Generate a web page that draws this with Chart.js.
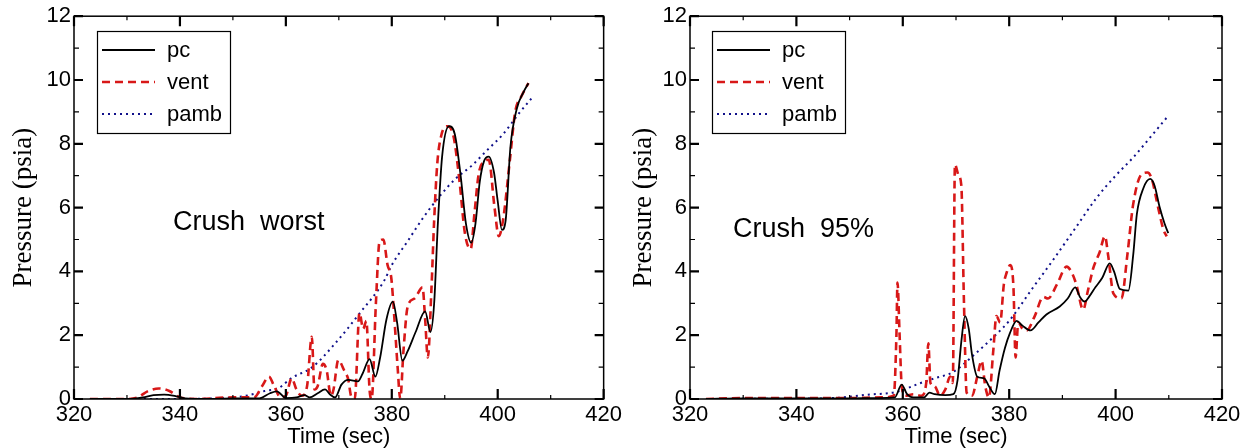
<!DOCTYPE html>
<html><head><meta charset="utf-8">
<script src="https://cdn.jsdelivr.net/npm/chart.js@4/dist/chart.umd.min.js"></script>
<style>
html,body{margin:0;padding:0;background:#fff;}
#wrap{position:relative;width:1250px;height:448px;overflow:hidden;}
.box{position:absolute;top:0;width:625px;height:448px;}
</style></head><body>
<div id="wrap">
<div class="box" style="left:0"><canvas id="c1" width="625" height="448"></canvas></div>
<div class="box" style="left:625px"><canvas id="c2" width="625" height="448"></canvas></div>
</div>
<script>
// ---- axis ticks ----
const xTickValues = [320, 340, 360, 380, 400, 420];
const yTickValues = [0, 2, 4, 6, 8, 10, 12];
const seriesNames = ['pc', 'vent', 'pamb'];
const panelLabels = ['Crush  worst', 'Crush  95%'];

// ---- left panel: Crush worst ----
const leftPcT = [323,330,333,335,337,339,341,345,350,355,357,358.3,360,362,363.5,364.5,366,367.4,368.3,369.3,370.5,371.8,373.6,374.5,375.8,376.9,377.8,379,380.2,381,382,383,384.5,386.3,387.3,388,388.7,389.5,390.8,391.9,393,394,395,395.8,396.6,397.4,398.3,399.3,400,400.8,401.5,402.4,403.6,404.8,405.8];
const leftPcV = [0,0,0.05,0.12,0.14,0.1,0.02,0,0.02,0.02,0.18,0.24,0.03,0.05,0.12,0.05,0.18,0.3,0.15,0.05,0.45,0.6,0.55,0.8,1.25,0.7,1.3,2.5,3.05,2.4,1.2,1.5,2.1,2.75,2.1,3.0,5.5,7.6,8.55,8.3,7.0,5.5,4.9,5.5,6.8,7.45,7.6,7.1,6.2,5.3,5.6,7.9,9.1,9.6,9.9];

const leftVentT = [323,330,332,334,336,338,340,343,350,354,355.5,356.8,357.8,359,360,361.1,362,363,364,364.9,365.4,366,367,367.7,368.5,369,369.9,371,371.8,372.3,373,373.9,374.6,375.2,375.8,376.2,377,377.7,378.4,379.2,379.9,380.5,381.1,381.6,382.2,383,384.3,385.8,386.3,386.8,387.5,388,388.6,389.4,390.5,391.7,392.8,393.8,394.9,395.6,396.4,397.4,398.3,399.4,400.2,401,402.3,403.3,404.5,405.8];
const leftVentV = [0,0,0.05,0.25,0.33,0.25,0.05,0,0.05,0.05,0.4,0.7,0.4,0.05,0.1,0.65,0.3,0.1,0.4,1.95,0.3,0.4,1.1,0.9,0.1,0.3,1.22,0.9,0.6,0.1,0,2.7,2.2,2.45,0.3,0,3.0,4.95,5.0,4.2,3.8,2.5,1.0,0,1.5,2.9,3.15,3.5,2.5,1.3,3.5,5.6,7.4,8.3,8.55,8.2,6.8,5.2,4.7,5.8,7.05,7.45,7.5,6.0,5.1,5.6,7.5,9.0,9.5,9.9];

const leftPambT = [323,335,345,350,353,356,358.6,361,365,369.3,374,378.6,380,383,386,389,392,395,398,401,404,406.5];
const leftPambV = [0,0,0.01,0.05,0.12,0.25,0.34,0.65,1.0,1.74,2.7,3.72,4.2,4.95,5.7,6.35,6.9,7.3,7.8,8.3,8.95,9.45];

// ---- right panel: Crush 95% ----
const rightPcT = [323,330,340,350,355,358.5,359.8,360.8,362,364,365,366,368,369.5,370.3,371,371.7,372.4,373,374,375.3,376.2,377.3,378.2,379.2,380.1,381.4,382.5,384,385.5,387,389.5,391,392.4,393.3,394.2,395,396.2,397.5,398.9,399.7,400.8,402.4,403.3,404,405.2,406.5,407.3,408.3,409.2,409.9];
const rightPcV = [0,0.02,0.02,0.02,0.03,0.05,0.45,0.15,0.05,0.05,0.2,0.15,0.12,0.15,0.6,1.8,2.6,2.2,1.4,0.7,0.65,0.4,0.15,0.9,1.6,2.05,2.45,2.3,2.15,2.4,2.65,2.9,3.15,3.5,3.2,3.05,3.2,3.5,3.8,4.25,4.0,3.45,3.4,4.5,5.8,6.6,6.9,6.7,6.0,5.5,5.2];

const rightVentT = [323,330,340,350,356,358.3,358.8,359,359.4,359.8,360.5,362,363.5,364.4,364.8,365.2,366,367,368,368.9,369.4,369.8,370.5,371,371.5,372,373,374,374.8,375.5,376.2,377,377.6,378.3,379,379.5,380.2,380.8,381.2,381.7,382.5,383.3,384.8,386.4,387.3,389,390.8,391.8,392.6,393.9,394.8,395.8,397,398,398.6,399.6,401.1,402.2,403.3,404.9,406,406.8,408,409,409.6];
const rightVentV = [0,0.03,0.03,0.03,0.05,0.1,2.0,3.65,2.0,0.4,0.1,0.15,0.1,0.5,1.75,0.5,0.4,0.1,0.3,0.7,0.5,7.35,7.0,6.7,3.0,0.2,0.1,0.7,1.2,0.4,0.05,1.5,2.6,2.4,3.6,3.95,4.2,3.5,1.3,2.4,2.2,2.15,2.6,3.2,3.15,3.6,4.15,3.95,3.6,2.8,3.4,4.1,4.6,5.1,4.5,3.3,3.15,4.5,6.1,7.05,7.1,6.9,6.0,5.3,5.1];

const rightPambT = [323,335,345,348,353,359,363,366,369.5,373.3,377.4,380,384.5,388,392,396.4,400,403.3,406,410];
const rightPambV = [0,0.01,0.02,0.04,0.13,0.23,0.48,0.65,0.85,1.37,2.0,2.45,3.5,4.3,5.25,6.3,7.0,7.57,8.1,8.9];

// ---- styles ----
const FONT = 'Liberation Sans, Arial, sans-serif';
const SERIF = 'Liberation Serif, Times New Roman, serif';
const styles = [
  {color:'#000000', width:1.8, dash:[]},
  {color:'#d81818', width:2.6, dash:[8,5]},
  {color:'#10108a', width:2, dash:[2,4]}
];

function pts(t, v){ return t.map((x,i)=>({x:x, y:v[i]})); }

const panelPlugin = {
  id:'panelDeco',
  afterDatasetsDraw(chart, args, o){
    const {ctx, chartArea:a, scales:{x,y}} = chart;
    ctx.save();
    ctx.strokeStyle='#000'; ctx.lineWidth=1.5; ctx.setLineDash([]);
    ctx.strokeRect(a.left, a.top, a.right-a.left, a.bottom-a.top);
    for (let v = xTickValues[0]; v <= xTickValues[xTickValues.length-1]; v += 10){
      const major = xTickValues.includes(v);
      const px = x.getPixelForValue(v);
      const len = major ? 10 : 4;
      ctx.lineWidth = major ? 2.2 : 1.2;
      ctx.beginPath();
      ctx.moveTo(px, a.bottom); ctx.lineTo(px, a.bottom-len);
      ctx.moveTo(px, a.top); ctx.lineTo(px, a.top+len);
      ctx.stroke();
    }
    for (let v = yTickValues[0]; v <= yTickValues[yTickValues.length-1]; v += 1){
      const major = yTickValues.includes(v);
      const py = y.getPixelForValue(v);
      const len = major ? 9 : 5;
      ctx.lineWidth = major ? 2.2 : 1.2;
      ctx.beginPath();
      ctx.moveTo(a.left, py); ctx.lineTo(a.left+len, py);
      ctx.moveTo(a.right, py); ctx.lineTo(a.right-len, py);
      ctx.stroke();
    }
    const L = o.legend;
    ctx.fillStyle='#fff';
    ctx.fillRect(L.x, L.y, L.w, L.h);
    ctx.strokeStyle='#000'; ctx.lineWidth=1.2;
    ctx.strokeRect(L.x+0.5, L.y+0.5, L.w, L.h);
    ctx.font = '22px ' + FONT;
    ctx.textBaseline='alphabetic'; ctx.textAlign='left';
    chart.data.datasets.forEach((ds,i)=>{
      const ly = L.y + 19 + i*32;
      ctx.strokeStyle = ds.borderColor; ctx.lineWidth = ds.borderWidth;
      ctx.setLineDash(ds.borderDash || []);
      ctx.beginPath(); ctx.moveTo(L.x+5, ly); ctx.lineTo(L.x+58, ly); ctx.stroke();
      ctx.setLineDash([]);
      ctx.fillStyle='#000';
      ctx.fillText(ds.label, L.x+70, ly+7);
    });
    ctx.font = '27px ' + FONT;
    ctx.fillStyle='#000';
    ctx.fillText(o.label, o.labelX, o.labelY);
    ctx.restore();
  }
};

function makeChart(id, data, yAxisW, rightPad, titlePad, legend, label, labelX, labelY){
  const ds = data.map((d,i)=>({
    label: seriesNames[i],
    data: pts(d[0], d[1]),
    borderColor: styles[i].color,
    borderWidth: styles[i].width,
    borderDash: styles[i].dash,
    pointRadius: 0,
    fill: false,
    cubicInterpolationMode: 'monotone',
    order: i
  }));
  return new Chart(document.getElementById(id), {
    type:'line',
    data:{datasets: ds},
    options:{
      responsive:false, animation:false, devicePixelRatio:1,
      layout:{padding:{top:16, right:rightPad, left:0, bottom:0}},
      plugins:{legend:{display:false}, tooltip:{enabled:false},
        panelDeco:{legend:legend, label:label, labelX:labelX, labelY:labelY}},
      scales:{
        x:{type:'linear', min:xTickValues[0], max:xTickValues[xTickValues.length-1],
          afterFit:(s)=>{s.height=49;},
          afterBuildTicks:(s)=>{s.ticks = xTickValues.map(v=>({value:v}));},
          grid:{display:false, drawTicks:false}, border:{display:false},
          ticks:{color:'#000', font:{family:FONT, size:22}, padding:3, maxRotation:0, autoSkip:false},
          title:{display:true, text:'Time (sec)', color:'#000', font:{family:FONT, size:22, lineHeight:1}, padding:{top:0,bottom:0}}
        },
        y:{type:'linear', min:yTickValues[0], max:yTickValues[yTickValues.length-1],
          afterFit:(s)=>{s.width=yAxisW;},
          afterBuildTicks:(s)=>{s.ticks = yTickValues.map(v=>({value:v}));},
          grid:{display:false, drawTicks:false}, border:{display:false},
          ticks:{color:'#000', font:{family:FONT, size:22}, padding:3, autoSkip:false},
          title:{display:true, text:'Pressure (psia)', color:'#000', font:{family:SERIF, size:27, lineHeight:1}, padding:{top:titlePad,bottom:0}}
        }
      }
    },
    plugins:[panelPlugin]
  });
}

makeChart('c1', [[leftPcT,leftPcV],[leftVentT,leftVentV],[leftPambT,leftPambV]], 74, 18, 10.5,
  {x:97, y:31, w:133, h:102}, panelLabels[0], 173, 230);
makeChart('c2', [[rightPcT,rightPcV],[rightVentT,rightVentV],[rightPambT,rightPambV]], 65, 28, 5.5,
  {x:87, y:31, w:133, h:102}, panelLabels[1], 108, 237);
</script>
</body></html>
